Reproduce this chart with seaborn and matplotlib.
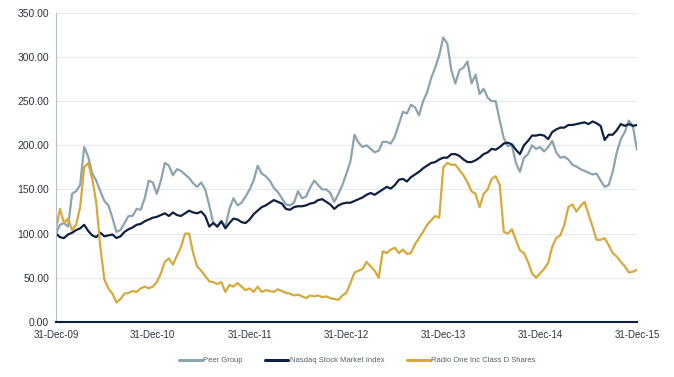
import pandas as pd
import matplotlib.pyplot as plt
import matplotlib.dates as mdates
import seaborn as sns

# semi-monthly readings from 31-Dec-09 to 31-Dec-15 (145 points each)
peer_group = [
    100, 110, 112, 108, 145, 148, 155, 198, 187, 168, 160, 148, 137, 132, 118, 102, 104, 112, 120, 120, 128, 127, 140, 160, 158,
    145, 160, 180, 177, 166, 173, 171, 167, 163, 157, 153, 158, 150, 132, 112, 108, 114, 108, 128, 140, 132, 135, 142, 150,
    160, 177, 168, 165, 160, 152, 147, 140, 133, 132, 135, 148, 140, 142, 152, 160, 155, 150, 150, 146, 136, 145, 155, 168,
    182, 212, 203, 198, 200, 196, 192, 194, 204, 204, 202, 210, 224, 238, 236, 246, 243, 234, 250, 260, 276, 288, 302, 322,
    315, 285, 270, 285, 288, 295, 270, 280, 258, 264, 254, 250, 250, 228, 208, 199, 200, 180, 170, 186, 190, 200, 196, 198,
    193, 198, 205, 192, 186, 187, 184, 178, 176, 173, 171, 169, 167, 168, 160, 153, 155, 170, 192, 207, 215, 228, 222, 195,
]
nasdaq = [
    100, 96, 95, 99, 101, 104, 106, 110, 103, 98, 96, 101, 97, 98, 99, 95, 97, 102, 105, 107, 110, 111, 114, 116, 118,
    119, 121, 123, 120, 124, 121, 120, 123, 126, 124, 123, 125, 120, 108, 112, 108, 114, 106, 112, 117, 116, 113, 112, 116,
    122, 126, 130, 132, 135, 138, 136, 134, 128, 127, 130, 131, 131, 132, 134, 135, 138, 139, 136, 133, 128, 132, 134, 135,
    135, 137, 139, 141, 144, 146, 144, 147, 150, 153, 151, 155, 161, 162, 159, 164, 167, 170, 174, 177, 180, 181, 184, 186,
    186, 190, 190, 188, 184, 181, 181, 183, 186, 190, 192, 196, 195, 198, 202, 203, 201, 195, 190, 200, 205, 211, 211, 212,
    211, 207, 215, 218, 220, 220, 223, 223, 224, 225, 226, 224, 227, 225, 222, 206, 212, 212, 217, 224, 222, 224, 222, 223,
]
radio_one = [
    105, 128, 112, 117, 104, 110, 130, 175, 180, 162, 135, 85, 48, 38, 32, 22, 26, 32, 33, 35, 34, 38, 40, 38, 40,
    45, 55, 68, 72, 65, 75, 85, 100, 100, 78, 63, 58, 52, 46, 45, 43, 45, 34, 42, 40, 44, 40, 36, 38,
    34, 40, 34, 36, 35, 34, 37, 35, 33, 32, 30, 31, 29, 27, 30, 29, 30, 28, 29, 27, 26, 25, 30, 33,
    44, 56, 58, 60, 68, 63, 58, 50, 80, 78, 82, 84, 78, 82, 77, 78, 88, 95, 102, 110, 115, 120, 118, 175,
    180, 178, 178, 172, 166, 158, 148, 145, 130, 145, 150, 162, 165, 155, 102, 100, 105, 93, 81, 78, 68, 55, 50, 55,
    60, 67, 85, 95, 98, 110, 130, 133, 125, 131, 136, 122, 108, 93, 93, 95, 87, 78, 74, 68, 63, 56, 57, 59,
]
dates = pd.date_range("2009-12-31", "2015-12-31", periods=len(nasdaq))

series_names = ["Peer Group", "Nasdaq Stock Market Index", "Radio One Inc Class D Shares"]
colors = ["#8ca3b0", "#0f2140", "#d6a93c"]

df = pd.DataFrame({
    "date": list(dates) * 3,
    "value": peer_group + nasdaq + radio_one,
    "series": [series_names[0]] * len(dates) + [series_names[1]] * len(dates) + [series_names[2]] * len(dates),
})

sns.set_style("white")
plt.rcParams["font.family"] = ["Liberation Sans", "DejaVu Sans"]

fig = plt.figure(figsize=(6.74, 3.77), dpi=100)
ax = fig.add_axes([0.083, 0.146, 0.862, 0.82])

sns.lineplot(data=df, x="date", y="value", hue="series", hue_order=series_names,
             palette=colors, linewidth=1.6, ax=ax, legend=True)

ax.set_xlim(pd.Timestamp("2009-12-31"), pd.Timestamp("2015-12-31"))
ax.set_ylim(0, 350)
ax.set_yticks(range(0, 351, 50))
ax.set_yticklabels([f"{v:.2f}" for v in range(0, 351, 50)])
year_ticks = [pd.Timestamp(f"{y}-12-31") for y in range(2009, 2016)]
ax.set_xticks(year_ticks)
ax.xaxis.set_major_formatter(mdates.DateFormatter("%d-%b-%y"))
ax.set_xlabel("")
ax.set_ylabel("")

ax.grid(axis="y", color="#e4eaee", linewidth=0.8)
ax.set_axisbelow(True)
for side in ["top", "right"]:
    ax.spines[side].set_visible(False)
ax.spines["left"].set_color("#b5bec6")
ax.spines["left"].set_linewidth(0.8)
ax.spines["bottom"].set_color("#0f2140")
ax.spines["bottom"].set_linewidth(1.5)
ax.tick_params(axis="x", direction="out", length=4, width=1, color="#0f2140",
               labelsize=7, labelcolor="#2b3440", pad=2)
ax.tick_params(axis="y", direction="out", length=3, width=0.8, color="#b5bec6",
               labelsize=7.5, labelcolor="#2b3440", pad=2)

handles, labels = ax.get_legend_handles_labels()
ax.legend_.remove()
leg = fig.legend(handles, labels, loc="center", bbox_to_anchor=(0.53, 0.043), ncol=3,
                 frameon=False, fontsize=5.5, handlelength=3.0, handletextpad=0.15,
                 columnspacing=3.0, labelcolor="#555f6a")
for line in leg.get_lines():
    line.set_linewidth(2.2)

fig.savefig("out.png", dpi=100)
